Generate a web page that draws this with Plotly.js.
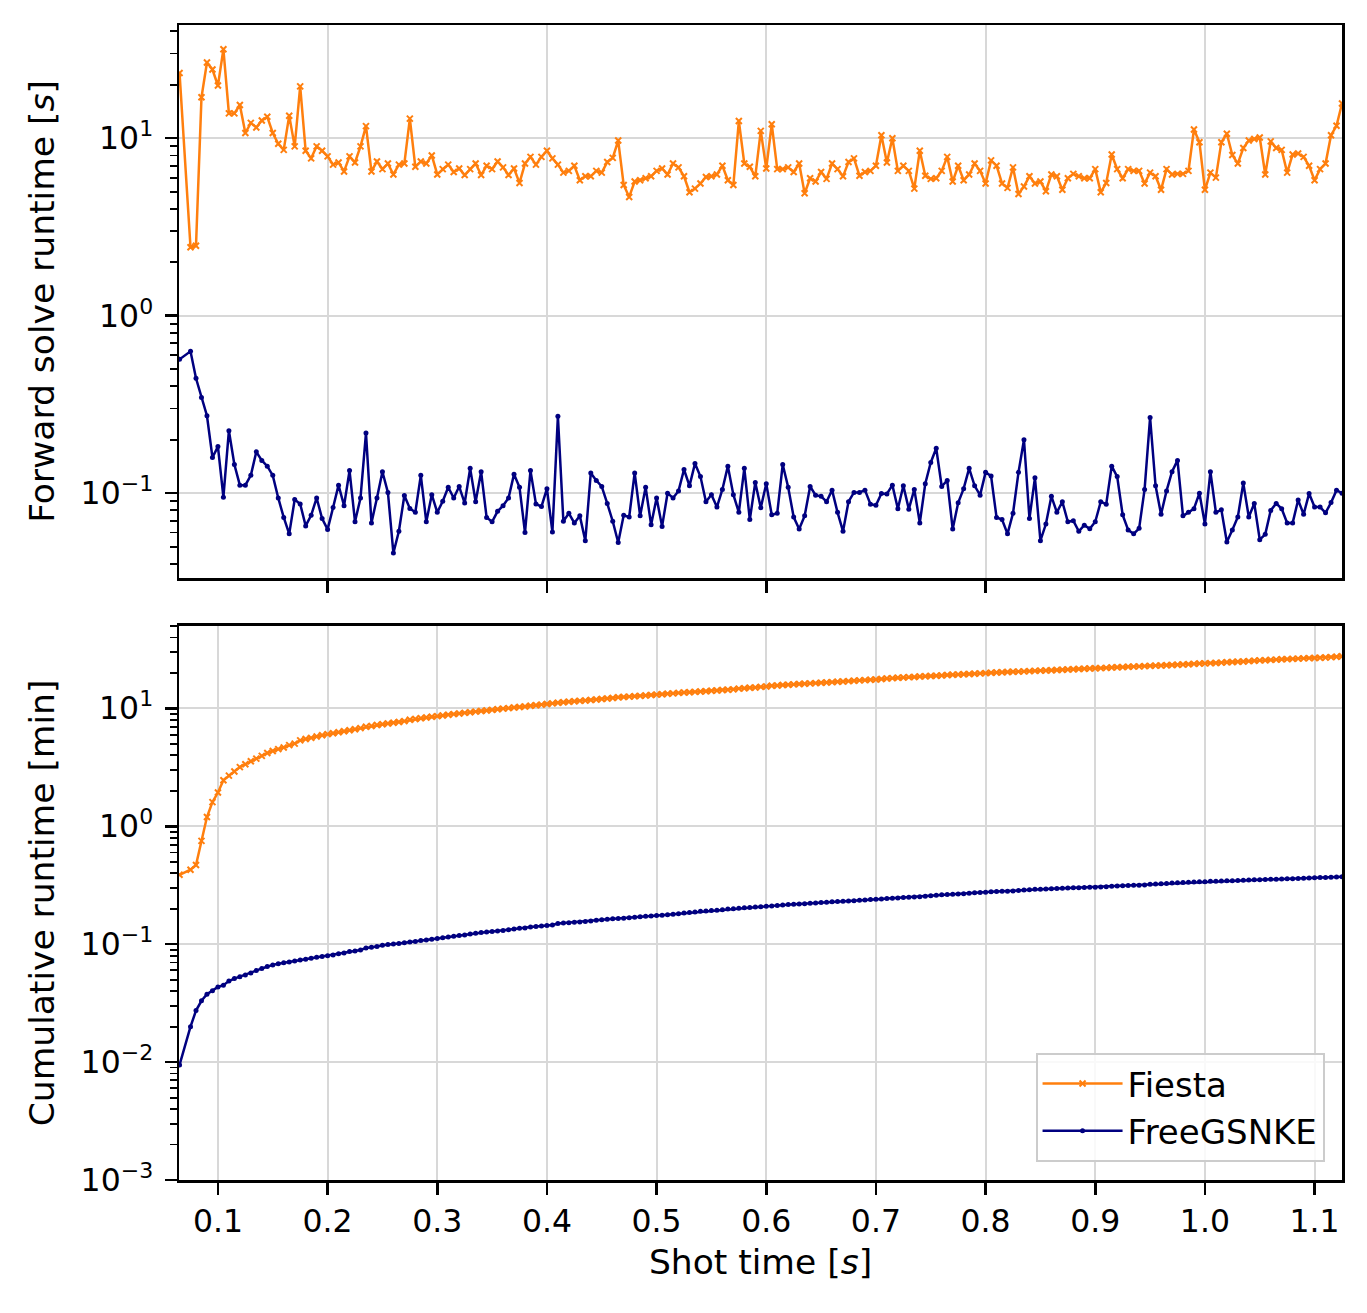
<!DOCTYPE html>
<html>
<head>
<meta charset="utf-8">
<script src="https://cdn.plot.ly/plotly-3.0.1.min.js"></script>
<style>
  body { margin: 0; background: #fff; }
  #chart { width: 1367px; height: 1313px; }
</style>
</head>
<body>
<div id="chart"></div>
<script>
// shot time [s] of each forward solve
const shotTime = [
  0.065, 0.075, 0.08, 0.085, 0.09, 0.095,
  0.1, 0.105, 0.11, 0.115, 0.12, 0.125, 0.13, 0.135, 0.14, 0.145,
  0.15, 0.155, 0.16, 0.165, 0.17, 0.175, 0.18, 0.185, 0.19, 0.195,
  0.2, 0.205, 0.21, 0.215, 0.22, 0.225, 0.23, 0.235, 0.24, 0.245,
  0.25, 0.255, 0.26, 0.265, 0.27, 0.275, 0.28, 0.285, 0.29, 0.295,
  0.3, 0.305, 0.31, 0.315, 0.32, 0.325, 0.33, 0.335, 0.34, 0.345,
  0.35, 0.355, 0.36, 0.365, 0.37, 0.375, 0.38, 0.385, 0.39, 0.395,
  0.4, 0.405, 0.41, 0.415, 0.42, 0.425, 0.43, 0.435, 0.44, 0.445,
  0.45, 0.455, 0.46, 0.465, 0.47, 0.475, 0.48, 0.485, 0.49, 0.495,
  0.5, 0.505, 0.51, 0.515, 0.52, 0.525, 0.53, 0.535, 0.54, 0.545,
  0.55, 0.555, 0.56, 0.565, 0.57, 0.575, 0.58, 0.585, 0.59, 0.595,
  0.6, 0.605, 0.61, 0.615, 0.62, 0.625, 0.63, 0.635, 0.64, 0.645,
  0.65, 0.655, 0.66, 0.665, 0.67, 0.675, 0.68, 0.685, 0.69, 0.695,
  0.7, 0.705, 0.71, 0.715, 0.72, 0.725, 0.73, 0.735, 0.74, 0.745,
  0.75, 0.755, 0.76, 0.765, 0.77, 0.775, 0.78, 0.785, 0.79, 0.795,
  0.8, 0.805, 0.81, 0.815, 0.82, 0.825, 0.83, 0.835, 0.84, 0.845,
  0.85, 0.855, 0.86, 0.865, 0.87, 0.875, 0.88, 0.885, 0.89, 0.895,
  0.9, 0.905, 0.91, 0.915, 0.92, 0.925, 0.93, 0.935, 0.94, 0.945,
  0.95, 0.955, 0.96, 0.965, 0.97, 0.975, 0.98, 0.985, 0.99, 0.995,
  1.0, 1.005, 1.01, 1.015, 1.02, 1.025, 1.03, 1.035, 1.04, 1.045,
  1.05, 1.055, 1.06, 1.065, 1.07, 1.075, 1.08, 1.085, 1.09, 1.095,
  1.1, 1.105, 1.11, 1.115, 1.12, 1.125
];

// forward solve runtime [s], Fiesta
const fiestaSolve = [
  23.3, 2.43, 2.48, 17.0, 26.7, 24.4,
  19.8, 31.7, 13.8, 13.8, 15.4, 10.7, 12.2, 11.5, 12.6, 13.2,
  10.7, 9.3, 8.6, 13.4, 9.0, 19.6, 8.5, 7.7, 9.0, 8.5,
  7.9, 7.1, 7.3, 6.5, 7.9, 7.3, 9.0, 11.7, 6.5, 7.4,
  6.7, 7.2, 6.25, 7.1, 7.2, 12.9, 6.9, 7.4, 7.2, 8.0,
  6.25, 6.7, 7.1, 6.45, 6.75, 6.2, 6.7, 7.2, 6.2, 7.0,
  6.7, 7.4, 6.85, 6.2, 6.75, 5.6, 7.2, 7.85, 7.1, 7.85,
  8.5, 7.7, 7.1, 6.4, 6.55, 7.0, 5.8, 6.1, 6.1, 6.55,
  6.4, 7.35, 7.75, 9.7, 5.45, 4.67, 5.7, 5.8, 5.95, 6.1,
  6.55, 6.75, 6.25, 7.2, 6.85, 6.1, 4.96, 5.2, 5.56, 6.05,
  6.1, 6.25, 7.0, 5.8, 5.45, 12.5, 7.2, 6.9, 6.1, 11.0,
  6.75, 12.0, 6.7, 6.7, 6.85, 6.45, 7.2, 4.9, 5.95, 5.7,
  6.45, 5.9, 7.2, 6.7, 6.1, 7.35, 7.7, 6.15, 6.45, 6.55,
  7.0, 10.4, 7.3, 10.0, 6.55, 7.0, 6.55, 5.2, 8.5, 6.15,
  5.9, 5.95, 6.55, 7.85, 5.7, 7.0, 5.8, 6.25, 7.2, 6.55,
  5.56, 7.5, 7.0, 5.56, 5.25, 6.85, 4.85, 5.35, 6.1, 5.56,
  5.7, 5.03, 6.25, 6.1, 5.12, 5.95, 6.3, 6.1, 5.95, 5.95,
  6.7, 4.96, 5.6, 8.1, 6.7, 5.95, 6.7, 6.55, 6.55, 5.56,
  6.4, 6.1, 5.12, 6.7, 6.25, 6.3, 6.3, 6.55, 11.2, 9.5,
  5.12, 6.4, 6.0, 9.5, 10.6, 8.05, 7.2, 8.8, 9.7, 9.9,
  10.1, 6.25, 9.6, 8.8, 8.6, 6.4, 8.1, 8.2, 7.85, 7.0,
  5.8, 6.7, 7.2, 10.4, 11.75, 15.7
];

// forward solve runtime [s], FreeGSNKE
const freegsnkeSolve = [
  0.568, 0.63, 0.444, 0.346, 0.273, 0.159,
  0.183, 0.095, 0.225, 0.145, 0.111, 0.111, 0.126, 0.171, 0.153, 0.142,
  0.126, 0.094, 0.073, 0.059, 0.092, 0.087, 0.0654, 0.075, 0.094, 0.072,
  0.0625, 0.083, 0.111, 0.085, 0.134, 0.069, 0.094, 0.218, 0.068, 0.094,
  0.132, 0.101, 0.046, 0.061, 0.097, 0.082, 0.078, 0.126, 0.069, 0.098,
  0.078, 0.09, 0.108, 0.094, 0.109, 0.088, 0.138, 0.0895, 0.132, 0.073,
  0.069, 0.079, 0.085, 0.094, 0.128, 0.108, 0.06, 0.134, 0.087, 0.084,
  0.106, 0.0605, 0.271, 0.0695, 0.077, 0.068, 0.0745, 0.054, 0.13, 0.118,
  0.109, 0.0875, 0.0695, 0.0527, 0.075, 0.0734, 0.13, 0.0745, 0.108, 0.0664,
  0.094, 0.065, 0.1, 0.094, 0.103, 0.136, 0.11, 0.147, 0.124, 0.0895,
  0.098, 0.0835, 0.105, 0.142, 0.098, 0.078, 0.138, 0.071, 0.115, 0.0827,
  0.113, 0.0755, 0.077, 0.145, 0.108, 0.0734, 0.0628, 0.0745, 0.109, 0.0975,
  0.096, 0.0895, 0.104, 0.078, 0.061, 0.0895, 0.101, 0.101, 0.104, 0.0867,
  0.0855, 0.0995, 0.099, 0.111, 0.0817, 0.11, 0.0813, 0.105, 0.068, 0.113,
  0.149, 0.179, 0.109, 0.118, 0.0628, 0.0883, 0.106, 0.138, 0.11, 0.0975,
  0.131, 0.125, 0.073, 0.071, 0.059, 0.077, 0.131, 0.2, 0.072, 0.122,
  0.054, 0.067, 0.096, 0.078, 0.0895, 0.069, 0.07, 0.061, 0.066, 0.063,
  0.069, 0.0895, 0.0867, 0.142, 0.124, 0.0755, 0.062, 0.059, 0.0634, 0.105,
  0.267, 0.11, 0.076, 0.103, 0.132, 0.153, 0.0745, 0.078, 0.0817, 0.1,
  0.067, 0.132, 0.078, 0.0806, 0.0531, 0.062, 0.0734, 0.114, 0.0734, 0.0875,
  0.0547, 0.0586, 0.08, 0.0875, 0.0817, 0.068, 0.068, 0.0915, 0.076, 0.0995,
  0.0835, 0.0835, 0.0775, 0.0885, 0.104, 0.1
];

const seriesNames = ["Fiesta", "FreeGSNKE"];

// cumulative runtime in minutes = running total of the solve times above
function cumulativeMinutes(secs) {
  let total = 0;
  return secs.map(s => { total += s; return total / 60; });
}

const ORANGE = "#ff7f0e";
const NAVY = "#000080";
const FONT = "DejaVu Sans, sans-serif";
const MINUS = "\u2212";

function logTicks(lo, hi) {
  const vals = [], text = [];
  for (let p = lo; p <= hi; p++) {
    vals.push(Math.pow(10, p));
    text.push("10<sup>" + (p < 0 ? MINUS + (-p) : p) + "</sup>");
  }
  return { vals, text };
}
function minorTicks(lo, hi) {
  const vals = [];
  for (let p = lo; p <= hi; p++)
    for (let k = 2; k <= 9; k++) vals.push(k * Math.pow(10, p));
  return vals;
}

const orangeLine = { color: ORANGE, width: 2.5 };
const orangeMarker = { symbol: "x-thin", size: 6, color: ORANGE, line: { color: ORANGE, width: 2 } };
const navyLine = { color: NAVY, width: 2.5 };
const navyMarker = { symbol: "circle", size: 5, color: NAVY };

const data = [
  { x: shotTime, y: fiestaSolve, xaxis: "x2", yaxis: "y2", mode: "lines+markers",
    line: orangeLine, marker: orangeMarker, showlegend: false, name: seriesNames[0] },
  { x: shotTime, y: freegsnkeSolve, xaxis: "x2", yaxis: "y2", mode: "lines+markers",
    line: navyLine, marker: navyMarker, showlegend: false, name: seriesNames[1] },
  { x: shotTime, y: cumulativeMinutes(fiestaSolve), xaxis: "x", yaxis: "y", mode: "lines+markers",
    line: orangeLine, marker: orangeMarker, name: seriesNames[0] },
  { x: shotTime, y: cumulativeMinutes(freegsnkeSolve), xaxis: "x", yaxis: "y", mode: "lines+markers",
    line: navyLine, marker: navyMarker, name: seriesNames[1] }
];

const TICK_SIZE = 31.5;
const TITLE_SIZE = 34.5;

const axisStyle = {
  showline: true, linecolor: "black", linewidth: 2.5, mirror: true,
  ticks: "outside", ticklen: 12, tickwidth: 2.5, tickcolor: "black",
  showgrid: true, gridcolor: "#d8d8d8", gridwidth: 2,
  zeroline: false, automargin: false,
  tickfont: { family: FONT, size: TICK_SIZE, color: "black" }
};
const minorStyle = { ticks: "outside", ticklen: 7, tickwidth: 1.8, tickcolor: "black", showgrid: false };

const topTicks = logTicks(-1, 1);
const botTicks = logTicks(-3, 1);

const layout = {
  width: 1367, height: 1313,
  margin: { l: 179, r: 25, t: 25, b: 133 },
  paper_bgcolor: "white", plot_bgcolor: "white",
  font: { family: FONT, size: TICK_SIZE, color: "black" },
  xaxis: Object.assign({}, axisStyle, {
    domain: [0, 1], anchor: "y", range: [0.0645, 1.125],
    tick0: 0, dtick: 0.1, tickformat: ".1f",
    title: { text: "Shot time [<i>s</i>]", font: { family: FONT, size: TITLE_SIZE }, standoff: 12 }
  }),
  xaxis2: Object.assign({}, axisStyle, {
    domain: [0, 1], anchor: "y2", matches: "x", range: [0.0645, 1.125],
    tick0: 0, dtick: 0.2, showticklabels: false
  }),
  yaxis: Object.assign({}, axisStyle, {
    domain: [0, 0.4797], anchor: "x", type: "log", range: [-3, 1.70],
    tickmode: "array", tickvals: botTicks.vals, ticktext: botTicks.text,
    minor: Object.assign({ tickmode: "array", tickvals: minorTicks(-3, 1) }, minorStyle),
    ticklabelstandoff: 5,
    title: { text: "Cumulative runtime [min]", font: { family: FONT, size: TITLE_SIZE }, standoff: 16 }
  }),
  yaxis2: Object.assign({}, axisStyle, {
    domain: [0.5212, 1], anchor: "x2", type: "log", range: [-1.478, 1.638],
    tickmode: "array", tickvals: topTicks.vals, ticktext: topTicks.text,
    minor: Object.assign({ tickmode: "array", tickvals: minorTicks(-2, 1) }, minorStyle),
    ticklabelstandoff: 5,
    title: { text: "Forward solve runtime [<i>s</i>]", font: { family: FONT, size: TITLE_SIZE }, standoff: 16 }
  }),
  legend: {
    x: 0.985, y: 0.0156, xanchor: "right", yanchor: "bottom",
    bgcolor: "rgba(255,255,255,0.85)", bordercolor: "#cccccc", borderwidth: 2,
    itemwidth: 80,
    font: { family: FONT, size: 34, color: "black" }
  }
};

Plotly.newPlot("chart", data, layout, { displayModeBar: false, staticPlot: true });
</script>
</body>
</html>
